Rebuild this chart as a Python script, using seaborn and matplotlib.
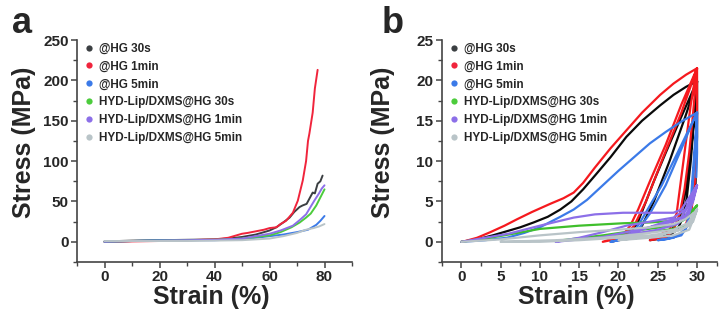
import matplotlib
matplotlib.use("Agg")
import matplotlib.pyplot as plt
from matplotlib.lines import Line2D
from matplotlib.ticker import MultipleLocator
import seaborn as sns
import pandas as pd

labels = ["@HG 30s", "@HG 1min", "@HG 5min",
          "HYD-Lip/DXMS@HG 30s", "HYD-Lip/DXMS@HG 1min", "HYD-Lip/DXMS@HG 5min"]
colors = ["#3b3f42", "#f0243c", "#3b7ae8", "#4ccc3c", "#8c6fe8", "#b9c4c8"]
colors_b = ["#0a0a0a", "#f5191e", "#3b7ae8", "#3fbf2c", "#8c6fe8", "#b9c4c8"]

# ---- panel a: compression to failure ----
a_30s_x = [0, 5, 10, 20, 30, 40, 45, 50, 55, 60, 62.5, 65, 67.3, 69, 70.9, 72, 73.5, 75.7, 76.5, 77.5, 78.5, 79.3]
a_30s_y = [0.5, 1, 1.5, 2, 2.5, 3, 4, 6, 9, 14, 18, 24, 30, 37, 43, 45, 47, 61, 60, 72, 75, 82]
a_1min_x = [0, 5, 10, 20, 30, 40, 45, 48, 50, 52, 55, 58, 60, 62.5, 64, 66, 68.5, 70.3, 72.1, 73.3, 74, 74.5, 75.7, 76.5, 77.5]
a_1min_y = [0, 0, 0.5, 1, 2, 3, 5, 8, 10, 11, 13, 15, 17, 18, 22, 26, 36, 51, 76, 100, 125, 134, 160, 190, 213]
a_5min_x = [0, 10, 20, 30, 40, 50, 55, 60, 65, 70, 74, 76, 77, 78.5, 80]
a_5min_y = [0, 1, 2, 2, 2, 3, 5, 7, 9, 12, 15, 19, 21, 26, 32]
a_h30s_x = [0, 10, 20, 30, 40, 50, 55, 60, 64, 68, 71, 73.3, 75, 77, 78.5, 80]
a_h30s_y = [0, 1, 1.5, 2, 2.5, 4, 6, 8, 12, 18, 24, 30, 35, 45, 55, 65]
a_h1min_x = [0, 10, 20, 30, 40, 50, 55, 60, 64, 68.5, 71, 73.3, 76.3, 78, 79, 80]
a_h1min_y = [0, 1, 1.5, 2, 2.5, 4, 7, 10, 14, 20, 27, 34, 51, 60, 66, 70]
a_h5min_x = [0, 10, 20, 30, 40, 50, 55, 60, 65, 70, 73.3, 76, 78, 80]
a_h5min_y = [1, 1, 1, 1, 1.5, 2, 3, 4, 7, 11, 15, 17, 19, 22]

# ---- panel b: cyclic compression to 30 % ----
b_30s_x = [0, 2, 4, 5.4, 7.5, 9.2, 11, 12.6, 14, 15.5, 17, 19, 21, 23, 25.3, 27, 28.6, 30,
           28, 26, 24.5, 23.3, 22.5, 21.5, 19,
           21.5, 23, 24.5, 26.5, 28.5, 30,
           29.6, 29.2, 28.7, 28.2, 27.5, 26, 24,
           26.5, 27.8, 28.6, 29.3, 29.8, 30, 30, 29.8]
b_30s_y = [0, 0.3, 0.8, 1.2, 1.8, 2.4, 3.1, 4, 5, 6.5, 8.2, 10.5, 13, 15, 16.9, 18.2, 19.2, 19.9,
           15.5, 11, 7.5, 4.5, 2.5, 1, 0,
           0.5, 2, 5, 10, 15.5, 19.9,
           15, 10, 5.5, 3, 1.5, 0.5, 0.2,
           1, 3, 6.5, 12, 17, 19.9, 13, 7]
b_1min_x = [0, 0.5, 2, 3.7, 5.5, 7.1, 9, 11.3, 13, 14.3, 15.5, 17, 19, 21, 23, 25.3, 27, 28.6, 30,
            28, 26, 24, 22.5, 21.5, 20.5, 18,
            20.5, 22, 23.5, 25.5, 28, 30,
            29.5, 29, 28.4, 27.8, 27, 26, 24,
            26.5, 27.4, 28.4, 29.2, 29.7, 30, 30, 29.8, 29.3, 28.5]
b_1min_y = [0, 0.1, 0.5, 1.2, 2, 2.8, 3.7, 4.7, 5.4, 6.1, 7.3, 9.2, 11.6, 13.8, 16, 18.2, 19.6, 20.7, 21.5,
            17, 12, 7.5, 4, 2, 0.8, 0,
            0.5, 2, 5, 10, 16, 21.5,
            16, 11, 6.5, 3.5, 1.5, 0.5, 0.2,
            1.5, 3.5, 11, 17, 20, 21.5, 15, 8, 4, 2]
b_5min_x = [0, 3, 5.8, 8, 10, 12.6, 14.3, 16, 18, 20, 22, 24, 26, 28, 30,
            28.5, 27, 25.5, 24, 22.8, 22, 21, 19,
            21.5, 22.5, 24, 26, 28, 29.3, 30,
            29.8, 29.5, 29.2, 28.8, 28, 26, 25,
            27, 28.5, 29.2, 29.6, 29.9, 30, 30, 29.9]
b_5min_y = [0, 0.2, 0.5, 1.1, 1.8, 3.1, 4.0, 5.2, 7.0, 8.8, 10.5, 12.2, 13.6, 14.9, 16,
            13, 10, 7, 4.5, 2.5, 1.3, 0.4, 0,
            0.5, 1.5, 3.5, 7, 11.5, 14.5, 16,
            13, 9, 5, 2, 0.8, 0.3, 0.2,
            0.5, 1.5, 4, 9, 14, 16, 11, 8]
b_h30s_x = [0, 3, 6, 10, 15, 20.6, 24, 27, 28.5, 29.5, 30,
            29, 27, 24, 20, 16, 12,
            18, 23, 27, 28.5, 30]
b_h30s_y = [0, 0.4, 0.9, 1.6, 2, 2.3, 2.4, 2.6, 3.3, 4, 4.5,
            2.2, 1.6, 1.2, 0.8, 0.4, 0.1,
            0.8, 1.5, 2, 2.8, 4.5]
b_h1min_x = [0, 3, 6, 10, 14.3, 17, 20.6, 24, 27, 28, 29, 30,
             29.5, 28.5, 27, 24, 21, 18, 14, 12,
             15, 18, 21, 24, 27, 28.5, 29.5, 30,
             29, 27.5, 25, 22, 20,
             23, 26, 28, 29.5, 30]
b_h1min_y = [0, 0.5, 1, 2, 3, 3.4, 3.6, 3.6, 3.6, 4, 5.5, 7,
             5, 3.2, 2.5, 1.8, 1.2, 0.6, 0.2, 0,
             0.5, 1.2, 2, 2.5, 3, 4, 6, 7,
             3.5, 2.2, 1.5, 1, 0.5,
             1.5, 2.5, 3, 5.5, 7]
b_h5min_x = [0, 5, 10, 15, 20, 24, 27, 28.5, 29.5, 30,
             29, 27, 24, 20, 15, 10, 5,
             12, 18, 23, 27, 28.8, 30,
             29, 27, 24, 20,
             25, 28, 29.5, 30]
b_h5min_y = [0, 0.3, 0.8, 1.2, 1.5, 1.8, 2.2, 2.8, 3.5, 4,
             2, 1.2, 0.8, 0.5, 0.2, 0, 0,
             0.2, 0.5, 1, 1.5, 2.3, 4,
             1.5, 0.8, 0.5, 0.2,
             0.8, 1.5, 2.5, 4]

a_x = [a_30s_x, a_1min_x, a_5min_x, a_h30s_x, a_h1min_x, a_h5min_x]
a_y = [a_30s_y, a_1min_y, a_5min_y, a_h30s_y, a_h1min_y, a_h5min_y]
b_x = [b_30s_x, b_1min_x, b_5min_x, b_h30s_x, b_h1min_x, b_h5min_x]
b_y = [b_30s_y, b_1min_y, b_5min_y, b_h30s_y, b_h1min_y, b_h5min_y]


def to_frame(xs, ys):
    rows = []
    for lab, x, y in zip(labels, xs, ys):
        for i, (sx, sy) in enumerate(zip(x, y)):
            rows.append({"sample": lab, "order": i, "strain": sx, "stress": sy})
    return pd.DataFrame(rows)


df_a = to_frame(a_x, a_y)
df_b = to_frame(b_x, b_y)

sns.set_theme(style="ticks")
plt.rcParams['font.family'] = ['Liberation Sans', 'DejaVu Sans']
plt.rcParams['font.weight'] = 'bold'

fig = plt.figure(figsize=(7.27, 3.22), dpi=100)
ax_a = fig.add_axes([77 / 727, 60 / 322, 275 / 727, 222 / 322])
ax_b = fig.add_axes([441.7 / 727, 60 / 322, 275 / 727, 222 / 322])

sns.lineplot(data=df_a, x="strain", y="stress", hue="sample", palette=colors, hue_order=labels,
             sort=False, estimator=None, lw=1.4, legend=False, ax=ax_a)
sns.lineplot(data=df_b, x="strain", y="stress", hue="sample", palette=colors_b, hue_order=labels,
             sort=False, estimator=None, lw=1.6, legend=False, ax=ax_b)

ax_a.set_xlim(-10, 90)
ax_a.set_ylim(-25, 250)
ax_a.xaxis.set_major_locator(MultipleLocator(20))
ax_a.xaxis.set_minor_locator(MultipleLocator(10))
ax_a.yaxis.set_major_locator(MultipleLocator(50))
ax_a.yaxis.set_minor_locator(MultipleLocator(25))

ax_b.set_xlim(-2.5, 32.5)
ax_b.set_ylim(-2.5, 25)
ax_b.xaxis.set_major_locator(MultipleLocator(5))
ax_b.xaxis.set_minor_locator(MultipleLocator(2.5))
ax_b.yaxis.set_major_locator(MultipleLocator(5))
ax_b.yaxis.set_minor_locator(MultipleLocator(2.5))

handles = [Line2D([], [], ls="", marker="o", markersize=4.5, color=c, markeredgewidth=0) for c in colors]

for ax, lx in [(ax_a, -0.15), (ax_b, -0.17)]:
    sns.despine(ax=ax)
    for s in ["left", "bottom"]:
        ax.spines[s].set_color("#444444")
        ax.spines[s].set_linewidth(1.2)
    ax.tick_params(which="major", direction="out", length=4, width=1.1, color="#444444",
                   labelsize=11, pad=2)
    ax.tick_params(which="minor", direction="out", length=3, width=1.0, color="#444444")
    for t in ax.get_xticklabels() + ax.get_yticklabels():
        t.set_fontweight("bold")
    ax.set_xlabel("Strain (%)", fontsize=18, fontweight="bold")
    ax.set_ylabel("Stress (MPa)", fontsize=18, fontweight="bold")
    ax.yaxis.set_label_coords(lx, 0.54)
    ax.xaxis.set_label_coords(0.49, -0.105)
    ax.legend(handles=handles, labels=labels, loc="upper left", bbox_to_anchor=(0.0, 1.02),
              frameon=False, handlelength=0.8, handletextpad=0.5,
              labelspacing=0.5, borderaxespad=0.2, prop={"weight": "bold", "size": 8.5})

fig.text(12 / 727, 1 - 33 / 322, "a", fontsize=26, fontweight="bold")
fig.text(382 / 727, 1 - 33 / 322, "b", fontsize=26, fontweight="bold")

fig.savefig("out.png", dpi=100)
